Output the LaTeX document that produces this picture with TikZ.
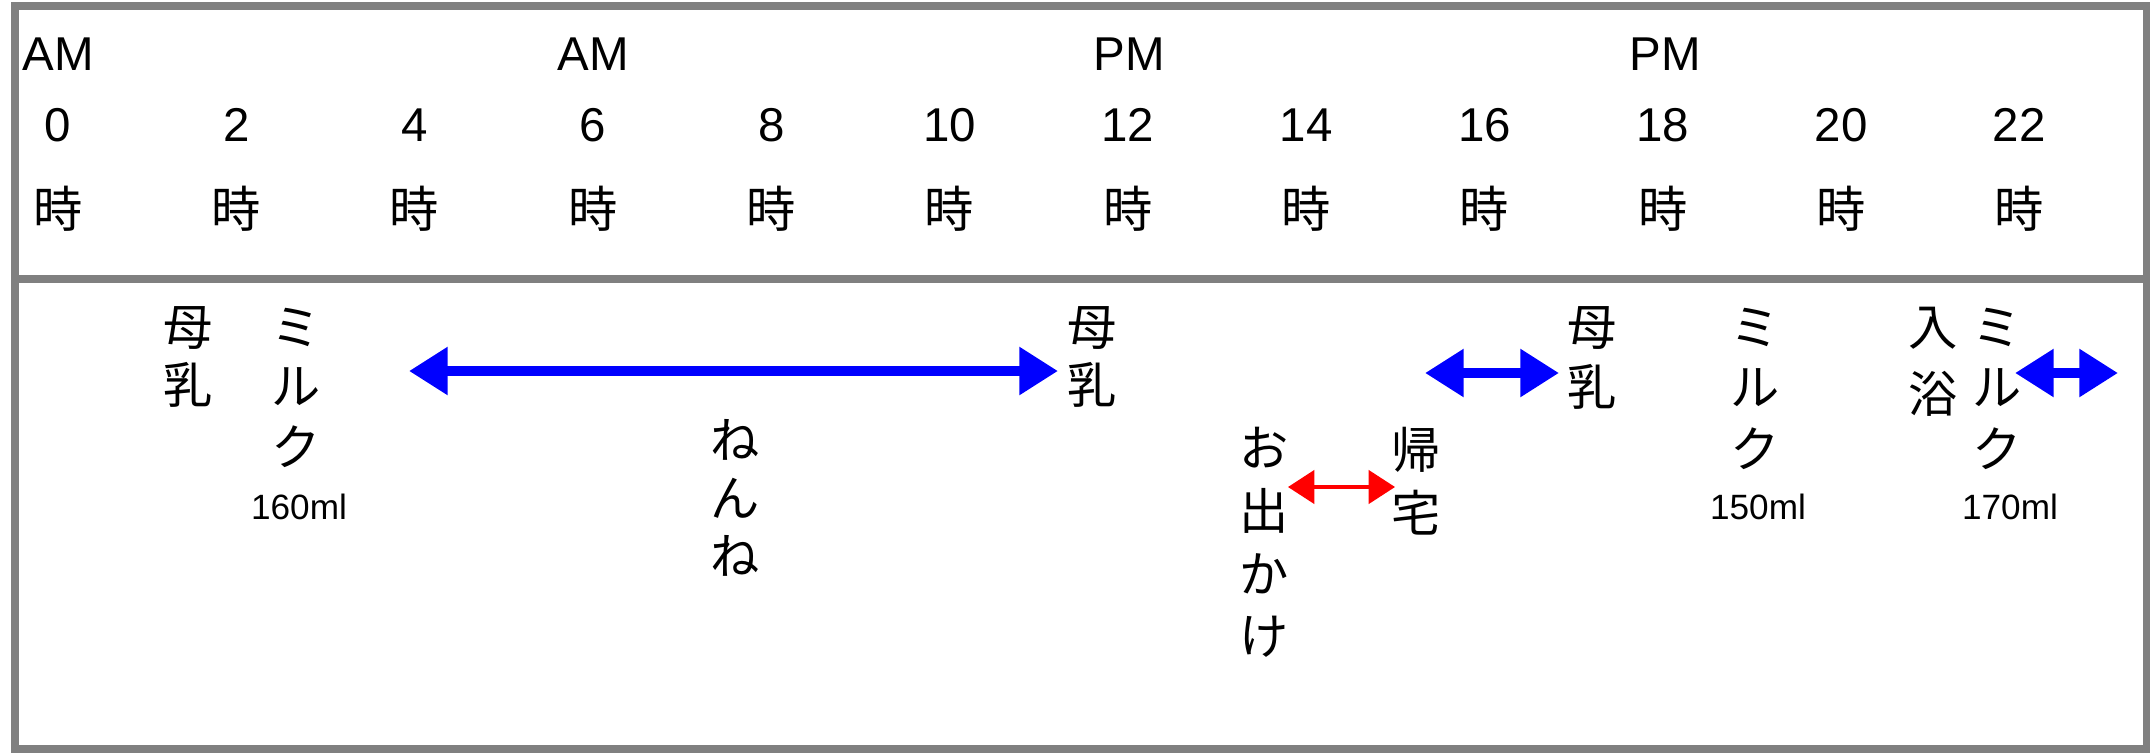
\documentclass[tikz,border=0pt]{standalone}
\usepackage{fontspec}
\setmainfont{Liberation Sans}
\newfontfamily\jp{Noto Sans CJK JP}
\usetikzlibrary{arrows.meta}
\newcommand{\tate}[4]{\begin{scope}[shift={#2}]
  \foreach \c [count=\i from 0] in {#4} \node[moji] (#1-\i) at (0,\i*#3) {\c};\end{scope}}

\begin{document}
\begin{tikzpicture}[x=0.01cm,y=-0.01cm,>={Triangle[length=11pt,width=13pt]},
  moji/.style={font=\jp\fontsize{14}{16}\selectfont,inner sep=0pt},
  eigo/.style={font=\fontsize{13.5}{16}\selectfont,inner sep=0pt},
  ryou/.style={font=\fontsize{10}{12}\selectfont,inner sep=0pt},
  nemuri/.style={blue,line width=2.8pt,<->},
  dekake/.style={red,line width=0.9pt,{Triangle[length=7.5pt,width=9.5pt]}-{Triangle[length=7.5pt,width=9.5pt]}}]
\useasboundingbox (0,0) rectangle (2154,754);
\draw[gray,line width=2pt] (15,6) rectangle (2146,749);
\draw[gray,line width=2pt] (15,279) -- (2146,279);
\node[eigo] (am0) at (58,54) {AM};
\node[eigo] (am6) at (593,54) {AM};
\node[eigo] (pm12) at (1129,54) {PM};
\node[eigo] (pm18) at (1665,54) {PM};
\foreach \h [count=\i from 0] in {0,2,4,...,22} {
  \node[eigo] (suji\h) at (58+\i*178.3,125) {\h};
  \node[moji] (ji\h) at (58+\i*178.3,209) {時};
}
\tate{bonyuA}{(188,328)}{57}{母,乳}
\tate{milkA}{(296,327)}{60}{ミ,ル,ク}
\node[ryou] (mlA) at (299,507) {160ml};
\coordinate (neL) at (409,371);
\coordinate (neR) at (1058,371);
\draw[nemuri] (neL) -- (neR);
\tate{nenne}{(735,440)}{58}{ね,ん,ね}
\tate{bonyuB}{(1092,328)}{57}{母,乳}
\tate{odekake}{(1264,448)}{63}{お,出,か,け}
\tate{kitaku}{(1416,450)}{63}{帰,宅}
\coordinate (deL) at (1288,487);
\coordinate (deR) at (1395,487);
\draw[dekake] (deL) -- (deR);
\coordinate (juL) at (1425,373);
\coordinate (juR) at (1559,373);
\draw[nemuri] (juL) -- (juR);
\tate{bonyuC}{(1592,328)}{59}{母,乳}
\tate{milkB}{(1755,327)}{61}{ミ,ル,ク}
\node[ryou] (mlB) at (1758,507) {150ml};
\tate{nyuyoku}{(1933,328)}{66}{入,浴}
\tate{milkC}{(1997,327)}{61}{ミ,ル,ク}
\node[ryou] (mlC) at (2010,507) {170ml};
\coordinate (yoL) at (2015,373);
\coordinate (yoR) at (2118,373);
\draw[nemuri] (yoL) -- (yoR);
\end{tikzpicture}
\end{document}
